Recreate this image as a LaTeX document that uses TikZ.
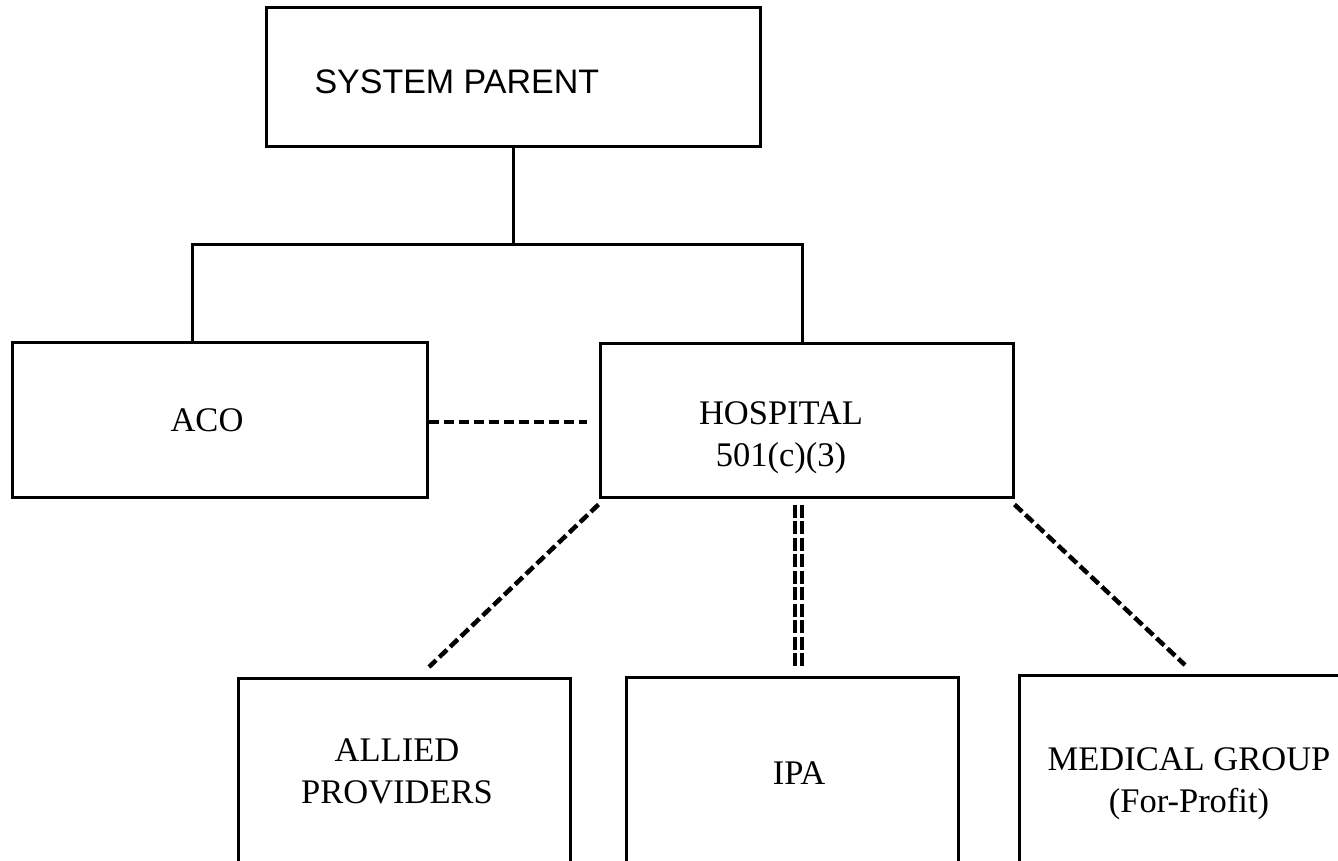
\documentclass[tikz,border=0pt]{standalone}
\usepackage{fontspec}
\setmainfont{Liberation Serif}
\setsansfont{Liberation Sans}
\usetikzlibrary{positioning}

\def\lowwidth{332pt}

\begin{document}
\begin{tikzpicture}[x=1pt, y=-1pt, line width=3pt, draw=black]
    \tikzstyle{unit}=[rectangle, draw, line width=3pt, inner sep=0pt]
    \tikzstyle{txt}=[font=\fontsize{34.5}{42}\selectfont, align=center, inner sep=0pt]
    \tikzstyle{dashlink}=[line width=4.5pt, dash pattern=on 10.5pt off 4.5pt]
    \tikzstyle{doublelink}=[line width=4pt, double, double distance=2.5pt, dash pattern=on 13pt off 3.5pt]

    \useasboundingbox (0,0) rectangle (1338,861);
    \clip (0,0) rectangle (1338,861);

    % Draw the top boxes
    \node[unit, minimum width=494pt, minimum height=139pt] (parent) at (513,77) {};
    \node[unit, minimum width=415pt, minimum height=155pt] (aco) at (219.5,419.5) {};
    \node[unit, minimum width=413pt, minimum height=154pt] (hosp) at (806.5,420) {};

    % Draw the lower boxes (cut off by the page)
    \foreach \name / \x / \top in {allied/404/677, ipa/792.5/676, medgrp/1185/674}
        \node[unit, minimum width=\lowwidth, minimum height=300pt, anchor=north] (\name) at (\x,\top) {};

    % Texts (base = baseline of the last line)
    \node[txt, font=\fontsize{34}{42}\selectfont\sffamily, anchor=base west] (parent-t) at (313,94) {SYSTEM PARENT};
    \node[txt, anchor=base] (aco-t) at (207,431) {ACO};
    \node[txt, anchor=base] (hosp-t) at (781,466) {HOSPITAL\\ 501(c)(3)};
    \node[txt, anchor=base] (allied-t) at (397,803) {ALLIED\\ PROVIDERS};
    \node[txt, anchor=base] (ipa-t) at (799,784) {IPA};
    \node[txt, anchor=base] (medgrp-t) at (1189,812) {MEDICAL GROUP\\ (For-Profit)};

    % Connect the parent with ACO and hospital
    \coordinate (jL) at (192,244);
    \coordinate (jR) at (802,244);
    \draw (parent.south) -- (parent.south |- jR);
    \draw (jL |- aco.north) -- (jL) -- (jR) -- (jR |- hosp.north);

    % Dashed links
    \draw[dashlink] ([yshift=-2.5pt]aco.east) -- ([xshift=-12pt,yshift=-2pt]hosp.west);
    \draw[dashlink] ([yshift=-6pt]hosp.south west) -- ([shift={(25pt,10pt)}]allied.north);
    \draw[doublelink] ([xshift=-8pt,yshift=-6pt]hosp.south) -- ([xshift=6pt,yshift=10pt]ipa.north);
    \draw[dashlink] ([yshift=-6pt]hosp.south east) -- ([yshift=9pt]medgrp.north);
\end{tikzpicture}
\end{document}
